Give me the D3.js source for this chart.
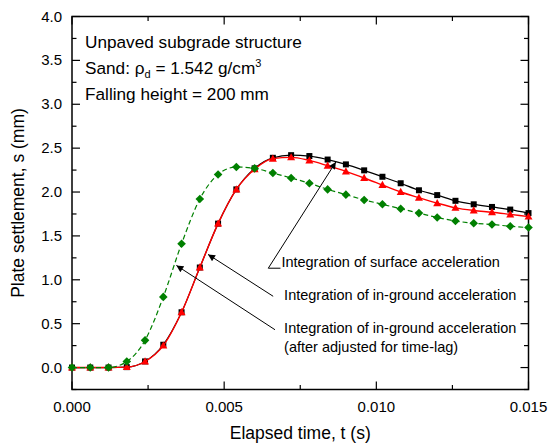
<!DOCTYPE html>
<html><head><meta charset="utf-8">
<script src="https://cdn.jsdelivr.net/npm/d3@7"></script>
<style>body{margin:0;background:#fff}svg{display:block}text{font-family:"Liberation Sans",Arial,sans-serif;fill:#000}</style>
</head><body>
<svg id="c" width="548" height="446"></svg>
<script>
// time step between plotted points (s)
const dt = 0.0006;
const timeIndex = d3.range(26);
const surface = [0,0,0,0.005,0.07,0.26,0.63,1.14,1.64,2.03,2.27,2.39,2.42,2.41,2.37,2.315,2.247,2.174,2.10,2.02,1.965,1.90,1.86,1.83,1.80,1.76];
const inground = [0,0,0,0.005,0.069,0.25,0.63,1.14,1.64,2.03,2.26,2.38,2.395,2.36,2.30,2.235,2.16,2.08,2.00,1.935,1.873,1.82,1.79,1.77,1.745,1.72];
const adjusted = [0,0,0,0.069,0.31,0.805,1.41,1.92,2.20,2.285,2.27,2.216,2.16,2.10,2.03,1.97,1.91,1.86,1.81,1.76,1.71,1.67,1.645,1.63,1.61,1.595];
const xTicks = [0, 0.005, 0.010, 0.015];
const yTicks = [0,0.5,1.0,1.5,2.0,2.5,3.0,3.5,4.0];
const infoLines = ["Unpaved subgrade structure","Sand","Falling height = 200 mm"];
const notes = ["Integration of surface acceleration","Integration of in-ground acceleration","Integration of in-ground acceleration","(after adjusted for time-lag)"];

const svg = d3.select("#c");
const L=72, R=528.5, T=16.5, B=389.5;
const x = d3.scaleLinear().domain([0,0.015]).range([L,R]);
const y = d3.scaleLinear().domain([-0.25,4.0]).range([B,T]);

// frame
svg.append("rect").attr("x",L).attr("y",T).attr("width",R-L).attr("height",B-T)
  .attr("fill","none").attr("stroke","#000").attr("stroke-width",1.5);

const g = svg.append("g").attr("stroke","#000").attr("stroke-width",1.2);
const xMinor = d3.range(0,0.0151,0.0025);
xMinor.forEach((v,i)=>{
  const len = (i%2===0)?8:4.5;
  g.append("line").attr("x1",x(v)).attr("x2",x(v)).attr("y1",B).attr("y2",B-len);
  g.append("line").attr("x1",x(v)).attr("x2",x(v)).attr("y1",T).attr("y2",T+len);
});
const yMinor = d3.range(-0.25,4.01,0.25);
yMinor.forEach(v=>{
  const major = Math.abs(v*2-Math.round(v*2))<1e-6;
  const len = major?8:4.5;
  g.append("line").attr("y1",y(v)).attr("y2",y(v)).attr("x1",L).attr("x2",L+len);
  g.append("line").attr("y1",y(v)).attr("y2",y(v)).attr("x1",R).attr("x2",R-len);
});

const fs = 15;
xTicks.forEach(v=>{
  svg.append("text").attr("x",x(v)).attr("y",B+22).attr("text-anchor","middle")
    .attr("font-size",fs).text(d3.format(".3f")(v));
});
yTicks.forEach(v=>{
  svg.append("text").attr("x",L-10).attr("y",y(v)+5).attr("text-anchor","end")
    .attr("font-size",fs).text(d3.format(".1f")(v));
});
svg.append("text").attr("x",(L+R)/2).attr("y",439).attr("text-anchor","middle")
  .attr("font-size",17.5).text("Elapsed time, t (s)");
svg.append("text").attr("transform",`translate(24,${(T+B)/2}) rotate(-90)`).attr("text-anchor","middle")
  .attr("font-size",17.5).text("Plate settlement, s (mm)");

// info text
const info = svg.append("g").attr("font-size",17.2);
info.append("text").attr("x",85).attr("y",48).text(infoLines[0]);
const t2 = info.append("text").attr("x",85).attr("y",74);
t2.append("tspan").text(infoLines[1]+": ");
t2.append("tspan").text("ρ");
t2.append("tspan").attr("font-size",11).attr("dy",4).text("d");
t2.append("tspan").attr("dy",-4).text(" = 1.542 g/cm");
t2.append("tspan").attr("font-size",11).attr("dy",-7).text("3");
info.append("text").attr("x",85).attr("y",100).text(infoLines[2]);

// curves
const mk = arr => timeIndex.map(i=>({t:i*dt, s:arr[i]}));
const line = d3.line().x(d=>x(d.t)).y(d=>y(d.s)).curve(d3.curveMonotoneX);
const sData = mk(surface), iData = mk(inground), aData = mk(adjusted);

svg.append("path").datum(sData).attr("d",line).attr("fill","none").attr("stroke","#000").attr("stroke-width",1.2);
svg.selectAll(".sq").data(sData).enter().append("rect")
  .attr("x",d=>x(d.t)-3).attr("y",d=>y(d.s)-3).attr("width",6).attr("height",6).attr("fill","#000");

svg.append("path").datum(iData).attr("d",line).attr("fill","none").attr("stroke","#ff0000").attr("stroke-width",1.4);
svg.selectAll(".tri").data(iData).enter().append("path")
  .attr("transform",d=>`translate(${x(d.t)},${y(d.s)})`)
  .attr("d","M0,-4.2L4,3L-4,3Z").attr("fill","#ff0000");

svg.append("path").datum(aData).attr("d",line).attr("fill","none").attr("stroke","#008000")
  .attr("stroke-width",1.2).attr("stroke-dasharray","5,3");
svg.selectAll(".dia").data(aData).enter().append("path")
  .attr("transform",d=>`translate(${x(d.t)},${y(d.s)})`)
  .attr("d","M0,-4.3L4.3,0L0,4.3L-4.3,0Z").attr("fill","#008000");

// annotations
const defs = svg.append("defs");
defs.append("marker").attr("id","ah").attr("viewBox","0 0 10 10").attr("refX",10).attr("refY",5)
  .attr("markerWidth",10).attr("markerHeight",7).attr("markerUnits","userSpaceOnUse").attr("orient","auto")
  .append("path").attr("d","M0,0L10,5L0,10Z").attr("fill","#000");

const arrows = [
  {pts:[[0.00685,1.132],[0.00645,1.132],[0.00867,2.342]]},
  {pts:[[0.00661,0.812],[0.00447,1.289]]},
  {pts:[[0.00667,0.431],[0.00343,1.164]]}
];
const al = d3.line().x(d=>x(d[0])).y(d=>y(d[1]));
arrows.forEach(a=>{
  svg.append("path").attr("d",al(a.pts)).attr("fill","none").attr("stroke","#000").attr("stroke-width",1)
    .attr("marker-end","url(#ah)");
});
const nf = 14.5;
svg.append("text").attr("x",x(0.00688)).attr("y",267).attr("font-size",nf).text(notes[0]);
svg.append("text").attr("x",x(0.00697)).attr("y",300).attr("font-size",nf).text(notes[1]);
svg.append("text").attr("x",x(0.00697)).attr("y",333).attr("font-size",nf).text(notes[2]);
svg.append("text").attr("x",x(0.00697)).attr("y",352).attr("font-size",nf).text(notes[3]);
</script>
</body></html>
